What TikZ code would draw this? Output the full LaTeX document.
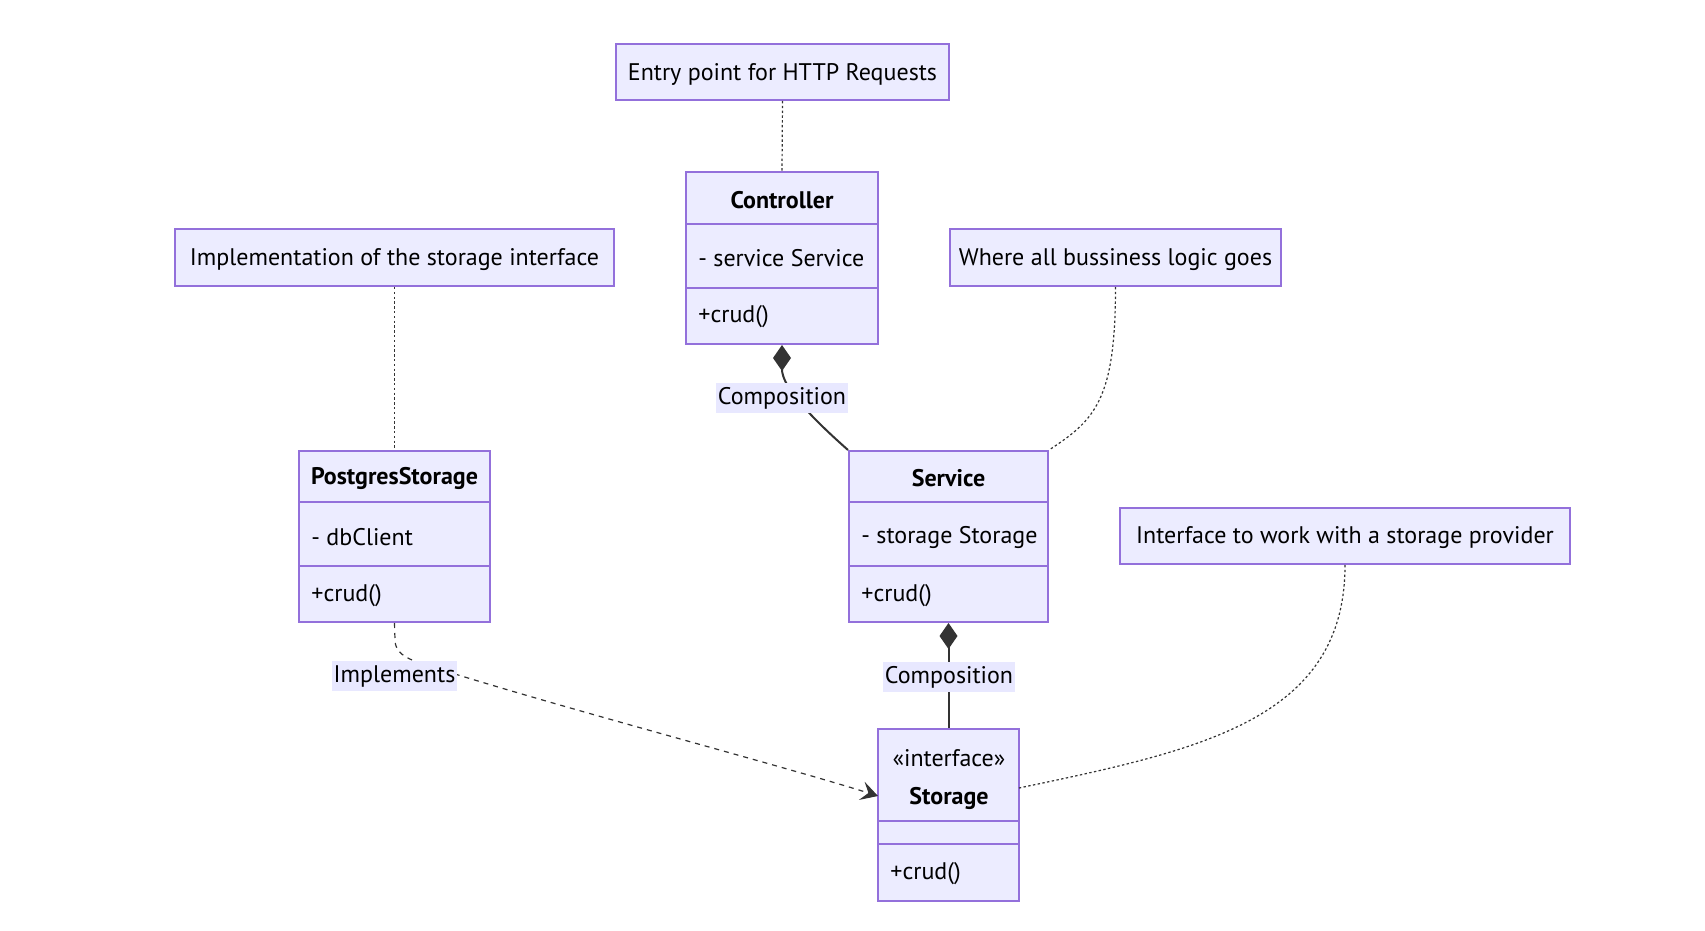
\documentclass[tikz,border=0pt]{standalone}
\usepackage{fontspec}
\setmainfont{PT Sans}
\usetikzlibrary{arrows.meta,fit}
\definecolor{nfill}{HTML}{ECECFF}
\definecolor{nline}{HTML}{9370DB}
\definecolor{ink}{HTML}{333333}
\definecolor{txt}{HTML}{000000}
\definecolor{lbg}{HTML}{E8E8FF}
\tikzset{
  box/.style={draw=nline, fill=nfill, line width=1pt, inner sep=0pt},
  txtn/.style={font=\fontsize{12}{14}\selectfont, text=txt, inner sep=0pt, yshift=-1pt},
  ttl/.style={txtn, font=\fontsize{12}{14}\selectfont\bfseries},
  mem/.style={txtn, anchor=west},
  elabel/.style={txtn, fill=lbg, inner xsep=1pt, inner ysep=2pt},
  comp/.style={draw=ink, line width=1pt},
  notel/.style={draw=ink, line width=0.6pt, dash pattern=on 1.2pt off 1.2pt},
  impl/.style={draw=ink, line width=0.6pt, dash pattern=on 2.5pt off 2.5pt},
}
\begin{document}
\begin{tikzpicture}[x=0.5pt, y=-0.5pt]
\useasboundingbox (0,0) rectangle (1705,931);
% notes
\node[box, fit={(616,44) (949,100)}] (nEntry) {};
\node[txtn] at (nEntry.center) {Entry point for HTTP Requests};
\node[box, fit={(175,229) (614,286)}] (nImpl) {};
\node[txtn] at (nImpl.center) {Implementation of the storage interface};
\node[box, fit={(950,229) (1281,286)}] (nWhere) {};
\node[txtn] at (nWhere.center) {Where all bussiness logic goes};
\node[box, fit={(1120,508) (1570,564)}] (nIface) {};
\node[txtn] at (nIface.center) {Interface to work with a storage provider};
% Controller
\node[box, fit={(686,172) (878,224)}] (ctrlT) {};
\node[box, fit={(686,224) (878,288)}] (ctrlA) {};
\node[box, fit={(686,288) (878,344)}] (ctrlM) {};
\node[ttl] at (ctrlT.center) {Controller};
\node[mem] at (698,256) {- service Service};
\node[mem] at (698,315) {+crud()};
% PostgresStorage
\node[box, fit={(299,451) (490,502)}] (pgT) {};
\node[box, fit={(299,502) (490,566)}] (pgA) {};
\node[box, fit={(299,566) (490,622)}] (pgM) {};
\node[ttl] at (pgT.center) {PostgresStorage};
\node[mem] at (311,535) {- dbClient};
\node[mem] at (311,594) {+crud()};
% Service
\node[box, fit={(849,451) (1048,502)}] (svcT) {};
\node[box, fit={(849,502) (1048,566)}] (svcA) {};
\node[box, fit={(849,566) (1048,622)}] (svcM) {};
\node[ttl] at (svcT.center) {Service};
\node[mem] at (861,535) {- storage Storage};
\node[mem] at (861,594) {+crud()};
% Storage
\node[box, fit={(878,729) (1019,821)}] (stoT) {};
\node[box, fit={(878,821) (1019,844)}] (stoA) {};
\node[box, fit={(878,844) (1019,901)}] (stoM) {};
\node[txtn] at (949,756) {«interface»};
\node[ttl] at (949,796) {Storage};
\node[mem] at (890,872) {+crud()};
% note connectors
\draw[notel] (nEntry.south) -- (ctrlT.north);
\draw[notel] (nImpl.south) -- (pgT.north);
\draw[notel] (nWhere.south) .. controls (1115.5,400) and (1095,420) .. (svcT.north east);
\coordinate (stoR) at (1019,788);
\draw[notel] (nIface.south) .. controls (1345,720) and (1200,750) .. (stoR);
% compositions
\draw[comp, {Diamond[length=13pt,width=9pt]}-] (ctrlM.south) .. controls (782,385) and (805,412) .. (svcT.north west);
\draw[comp, {Diamond[length=13pt,width=9pt]}-] (svcM.south) -- (stoT.north);
\node[elabel] (lc1) at (782,396) {Composition};
\node[elabel] (lc2) at (949,675) {Composition};
% implements
\coordinate (stoL) at (878,796);
\draw[impl, -{Stealth[length=8.5pt,width=9.5pt,inset=3.5pt,fill=ink]}] (pgM.south) -- (395,640) .. controls (395,652) and (405,658) .. (420,663) .. controls (550,705) and (780,765) .. (stoL);
\node[elabel] (li) at (394.5,674) {Implements};
\end{tikzpicture}
\end{document}
